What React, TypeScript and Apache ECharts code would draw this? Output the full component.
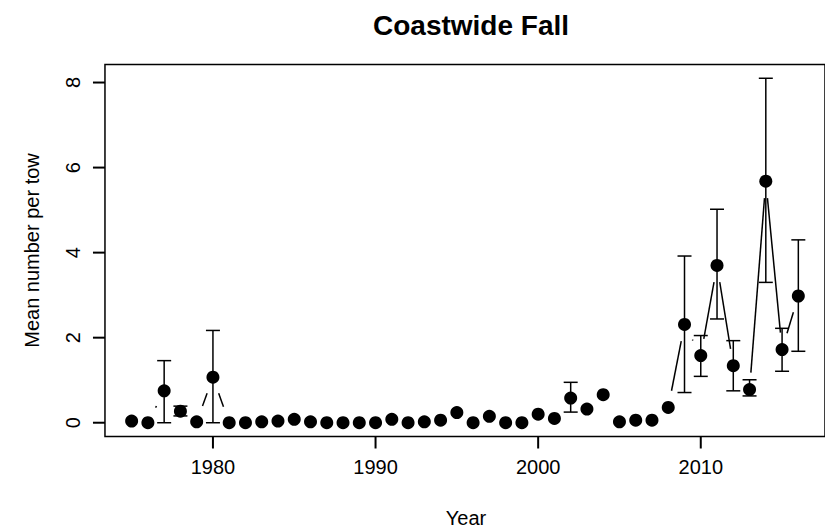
import React, { useEffect, useRef } from "react";
import * as echarts from "echarts";

const years = [
  1975, 1976, 1977, 1978, 1979, 1980, 1981, 1982, 1983, 1984,
  1985, 1986, 1987, 1988, 1989, 1990, 1991, 1992, 1993, 1994,
  1995, 1996, 1997, 1998, 1999, 2000, 2001, 2002, 2003, 2004,
  2005, 2006, 2007, 2008, 2009, 2010, 2011, 2012, 2013, 2014,
  2015, 2016,
];

const meanValues = [
  0.04, 0.0, 0.75, 0.27, 0.02, 1.07, 0.0, 0.0, 0.02, 0.04,
  0.08, 0.02, 0.0, 0.0, 0.0, 0.0, 0.08, 0.0, 0.02, 0.06,
  0.24, 0.0, 0.15, 0.0, 0.0, 0.2, 0.1, 0.58, 0.32, 0.66,
  0.02, 0.06, 0.06, 0.36, 2.31, 1.58, 3.7, 1.34, 0.78, 5.68,
  1.72, 2.98,
];

const lowerCI: (number | null)[] = [
  null, null, 0.0, 0.16, null, 0.0, null, null, null, null,
  null, null, null, null, null, null, null, null, null, null,
  null, null, null, null, null, null, null, 0.25, null, null,
  null, null, null, null, 0.71, 1.09, 2.44, 0.75, 0.63, 3.3,
  1.21, 1.68,
];

const upperCI: (number | null)[] = [
  null, null, 1.46, 0.39, null, 2.17, null, null, null, null,
  null, null, null, null, null, null, null, null, null, null,
  null, null, null, null, null, null, null, 0.95, null, null,
  null, null, null, null, 3.92, 2.05, 5.02, 1.93, 1.01, 8.1,
  2.22, 4.3,
];

const xTickValues = [1980, 1990, 2000, 2010];
const yTickValues = [0, 2, 4, 6, 8];

const FONT = "Liberation Sans, Arial, sans-serif";
const GAP = 17;
const TICK = 12;

const BOX_LEFT = 105;
const BOX_TOP = 64.5;
const BOX_W = 722;
const BOX_H = 372;

export default function App() {
  const ref = useRef<HTMLDivElement>(null);

  useEffect(() => {
    if (!ref.current) return;
    const chart = echarts.init(ref.current, undefined, { renderer: "svg" });

    const span = years[years.length - 1] - years[0];
    const boxXMin = years[0] - 0.04 * span;
    const boxXMax = years[years.length - 1] + 0.04 * span;
    const yHi = Math.max(...(upperCI.filter((v) => v !== null) as number[]), ...meanValues);
    const boxYMin = -0.04 * yHi;
    const boxYMax = yHi + 0.04 * yHi;

    const pxPerX = BOX_W / (boxXMax - boxXMin);
    const pxPerY = BOX_H / (boxYMax - boxYMin);
    const axisXMin = boxXMin - TICK / pxPerX;
    const axisYMin = boxYMin - TICK / pxPerY;

    const points = years.map((y, i) => [y, meanValues[i]]);
    const segments: number[][] = [];
    for (let i = 0; i < years.length - 1; i++) {
      segments.push([years[i], meanValues[i], years[i + 1], meanValues[i + 1]]);
    }
    const bars: number[][] = [];
    years.forEach((y, i) => {
      if (lowerCI[i] !== null && upperCI[i] !== null) {
        bars.push([y, lowerCI[i] as number, upperCI[i] as number]);
      }
    });

    const mk = (w = 1.5) => ({ stroke: "#000", lineWidth: w });
    const boxCenterX = BOX_LEFT + BOX_W / 2;
    const boxCenterY = BOX_TOP + BOX_H / 2;

    chart.setOption({
      animation: false,
      title: {
        text: "Coastwide Fall",
        left: boxCenterX,
        top: 6,
        textAlign: "center",
        textStyle: { fontFamily: FONT, fontSize: 28, fontWeight: "bold", color: "#000" },
      },
      graphic: [
        {
          type: "text",
          x: boxCenterX,
          y: 518,
          style: {
            text: "Year",
            fontFamily: FONT,
            fontSize: 20,
            fill: "#000",
            align: "center",
            verticalAlign: "middle",
          },
        },
        {
          type: "text",
          x: 32,
          y: boxCenterY,
          rotation: Math.PI / 2,
          style: {
            text: "Mean number per tow",
            fontFamily: FONT,
            fontSize: 20,
            fill: "#000",
            align: "center",
            verticalAlign: "middle",
          },
        },
      ],
      grid: {
        left: BOX_LEFT - TICK,
        top: BOX_TOP,
        width: BOX_W + TICK,
        height: BOX_H + TICK,
        show: false,
      },
      xAxis: {
        type: "value",
        min: axisXMin,
        max: boxXMax,
        splitLine: { show: false },
        axisLine: { show: false, onZero: false },
        axisTick: { show: false },
        axisLabel: {
          show: true,
          customValues: xTickValues,
          formatter: (v: number) => String(v),
          margin: 8,
          fontFamily: FONT,
          fontSize: 20,
          color: "#000",
        },
      },
      yAxis: {
        type: "value",
        min: axisYMin,
        max: boxYMax,
        splitLine: { show: false },
        axisLine: { show: false, onZero: false },
        axisTick: { show: false },
        axisLabel: {
          show: true,
          customValues: yTickValues,
          formatter: (v: number) => String(v),
          rotate: 90,
          margin: 10,
          fontFamily: FONT,
          fontSize: 20,
          color: "#000",
        },
      },
      series: [
        {
          type: "custom",
          name: "box",
          data: [[boxXMin, boxYMin, boxXMax, boxYMax]],
          encode: { x: [0, 2], y: [1, 3] },
          clip: false,
          silent: true,
          renderItem: (params: any, api: any) => {
            const a = api.coord([api.value(0), api.value(1)]);
            const b = api.coord([api.value(2), api.value(3)]);
            return {
              type: "rect",
              shape: { x: a[0], y: b[1], width: b[0] - a[0], height: a[1] - b[1] },
              style: { fill: "none", stroke: "#000", lineWidth: 1.5 },
            };
          },
        },
        {
          type: "custom",
          name: "xticks",
          data: xTickValues.map((v) => [v, boxYMin]),
          encode: { x: 0, y: 1 },
          clip: false,
          silent: true,
          renderItem: (params: any, api: any) => {
            const p = api.coord([api.value(0), api.value(1)]);
            return {
              type: "line",
              shape: { x1: p[0], y1: p[1], x2: p[0], y2: p[1] + TICK },
              style: mk(2),
            };
          },
        },
        {
          type: "custom",
          name: "yticks",
          data: yTickValues.map((v) => [boxXMin, v]),
          encode: { x: 0, y: 1 },
          clip: false,
          silent: true,
          renderItem: (params: any, api: any) => {
            const p = api.coord([api.value(0), api.value(1)]);
            return {
              type: "line",
              shape: { x1: p[0], y1: p[1], x2: p[0] - TICK, y2: p[1] },
              style: mk(2),
            };
          },
        },
        {
          type: "custom",
          name: "lines",
          data: segments,
          encode: { x: [0, 2], y: [1, 3] },
          clip: false,
          renderItem: (params: any, api: any) => {
            const p1 = api.coord([api.value(0), api.value(1)]);
            const p2 = api.coord([api.value(2), api.value(3)]);
            const dx = p2[0] - p1[0];
            const dy = p2[1] - p1[1];
            const L = Math.sqrt(dx * dx + dy * dy);
            if (L <= 2 * GAP) return { type: "group", children: [] };
            const ux = dx / L;
            const uy = dy / L;
            return {
              type: "line",
              shape: {
                x1: p1[0] + ux * GAP,
                y1: p1[1] + uy * GAP,
                x2: p2[0] - ux * GAP,
                y2: p2[1] - uy * GAP,
              },
              style: mk(),
            };
          },
        },
        {
          type: "custom",
          name: "errors",
          data: bars,
          encode: { x: 0, y: [1, 2] },
          clip: false,
          renderItem: (params: any, api: any) => {
            const lo = api.coord([api.value(0), api.value(1)]);
            const hi = api.coord([api.value(0), api.value(2)]);
            const hw = 7;
            return {
              type: "group",
              children: [
                { type: "line", shape: { x1: lo[0], y1: lo[1], x2: hi[0], y2: hi[1] }, style: mk() },
                { type: "line", shape: { x1: lo[0] - hw, y1: lo[1], x2: lo[0] + hw, y2: lo[1] }, style: mk() },
                { type: "line", shape: { x1: hi[0] - hw, y1: hi[1], x2: hi[0] + hw, y2: hi[1] }, style: mk() },
              ],
            };
          },
        },
        {
          type: "scatter",
          name: "mean",
          data: points,
          symbol: "circle",
          symbolSize: 13,
          itemStyle: { color: "#000", opacity: 1 },
          z: 5,
        },
      ],
    });

    return () => chart.dispose();
  }, []);

  return (
    <div
      ref={ref}
      style={{ position: "fixed", left: 0, top: 0, width: 825, height: 532, background: "#fff" }}
    />
  );
}
